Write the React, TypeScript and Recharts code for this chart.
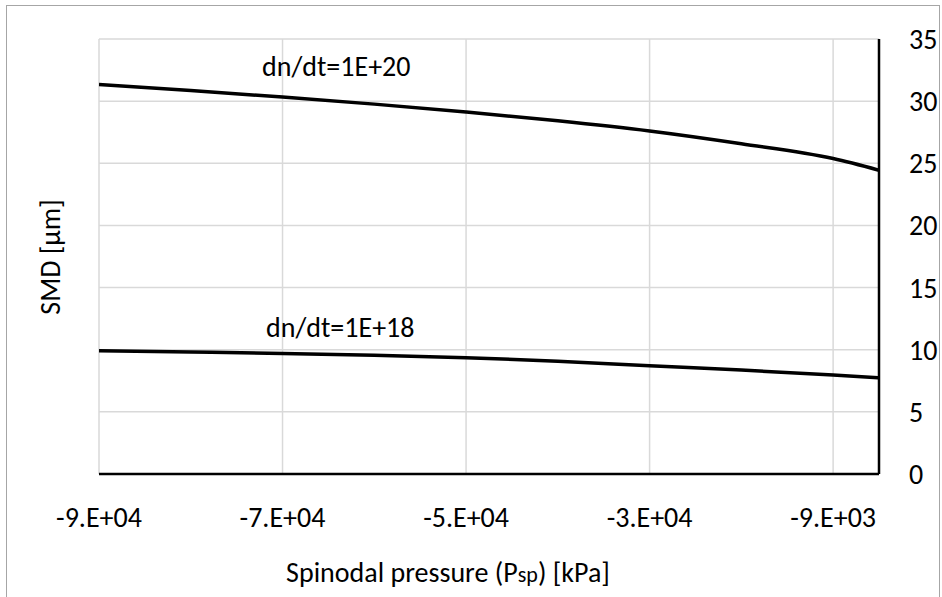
import { LineChart, Line, XAxis, YAxis, CartesianGrid } from 'recharts';

const pressure = [-89000, -79000, -69000, -59000, -49000, -39000, -29000, -19000, -9000, -4000];
const smdRate20 = [31.33, 30.85, 30.33, 29.76, 29.12, 28.42, 27.6, 26.57, 25.38, 24.44];
const smdRate18 = [9.91, 9.81, 9.7, 9.55, 9.36, 9.08, 8.71, 8.36, 7.96, 7.74];
const xTicks = [-89000, -69000, -49000, -29000, -9000];
const yTicks = [0, 5, 10, 15, 20, 25, 30, 35];

const data = pressure.map((p, i) => ({ p, high: smdRate20[i], low: smdRate18[i] }));

const FONT = 'Carlito, Calibri, Lato, sans-serif';
const FS = 28;

// excel style "0.E+00"
function sci(v: number) {
  if (v === 0) return '0';
  let e = Math.floor(Math.log10(Math.abs(v)));
  let m = Math.round(v / 10 ** e);
  if (Math.abs(m) >= 10) {
    m = m / 10;
    e += 1;
  }
  return `${m}.E${e >= 0 ? '+' : '-'}${String(Math.abs(e)).padStart(2, '0')}`;
}

export default function App() {
  return (
    <div style={{ position: 'relative', width: 942, height: 597, background: '#fff', fontFamily: FONT }}>
      <style>{'body{margin:0}'}</style>
      <div
        style={{
          position: 'absolute',
          left: 6,
          top: 5,
          width: 934,
          height: 600,
          border: '1px solid #a6a6a6',
          boxSizing: 'border-box',
        }}
      />
      <LineChart width={942} height={597} data={data} margin={{ top: 39, right: 0, bottom: 0, left: 99 }}>
        <CartesianGrid stroke="#d9d9d9" strokeWidth={1.5} yAxisId="right" />
        <XAxis
          dataKey="p"
          type="number"
          domain={[-89000, -4000]}
          ticks={xTicks}
          tickFormatter={sci}
          height={123}
          tickLine={false}
          tickMargin={27}
          axisLine={{ stroke: '#000', strokeWidth: 2.5 }}
          tick={{ fill: '#000', fontSize: FS, fontFamily: FONT }}
          allowDataOverflow
          label={() => (
            <text x={448} y={582} textAnchor="middle" fill="#000" fontSize={FS} fontFamily={FONT}>
              Spinodal pressure (P<tspan fontSize={22}>sp</tspan>) [kPa]
            </text>
          )}
        />
        <YAxis
          yAxisId="right"
          orientation="right"
          type="number"
          domain={[0, 35]}
          ticks={yTicks}
          width={63}
          tickLine={false}
          tickMargin={24}
          axisLine={{ stroke: '#000', strokeWidth: 2.5 }}
          tick={{ fill: '#000', fontSize: FS, fontFamily: FONT }}
        />
        <Line
          yAxisId="right"
          dataKey="high"
          type="monotone"
          stroke="#000"
          strokeWidth={3.5}
          dot={false}
          isAnimationActive={false}
        />
        <Line
          yAxisId="right"
          dataKey="low"
          type="monotone"
          stroke="#000"
          strokeWidth={3.5}
          dot={false}
          isAnimationActive={false}
        />
      </LineChart>
      <div style={{ position: 'absolute', left: 262, top: 51, fontSize: FS, lineHeight: '32px', color: '#000' }}>
        dn/dt=1E+20
      </div>
      <div style={{ position: 'absolute', left: 266, top: 312, fontSize: FS, lineHeight: '32px', color: '#000' }}>
        dn/dt=1E+18
      </div>
      <div
        style={{
          position: 'absolute',
          left: 50,
          top: 257,
          transform: 'translate(-50%, -50%) rotate(-90deg)',
          fontSize: FS,
          whiteSpace: 'nowrap',
          color: '#000',
        }}
      >
        SMD [μm]
      </div>
    </div>
  );
}
